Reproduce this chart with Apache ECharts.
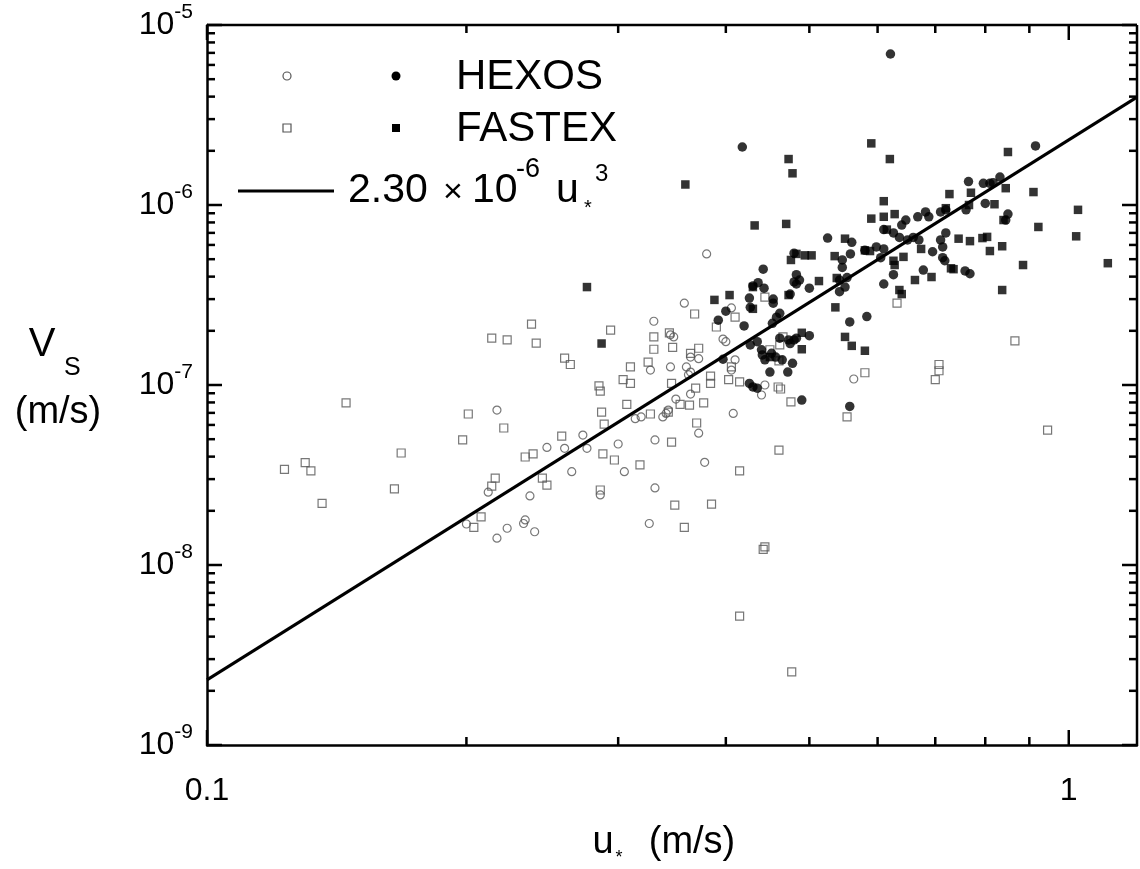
<!DOCTYPE html>
<html><head><meta charset="utf-8">
<script src="https://cdn.jsdelivr.net/npm/echarts@6/dist/echarts.min.js"></script>
<style>html,body{margin:0;padding:0;background:#fff}#c{width:1140px;height:869px}</style>
</head><body><div id="c"></div>
<script>
// ---------- data (u*, Vs) ----------
const hexosFilled = [
[0.621,6.9e-6],[0.418,2.1e-6],[0.915,2.13e-6],[0.765,1.35e-6],[0.796,1.32e-6],[0.81,1.32e-6],
[0.817,1.33e-6],[0.832,1.43e-6],[0.80,1.02e-6],[0.85,8.9e-7],[0.845,8.25e-7],[0.758,4.3e-7],
[0.768,4.15e-7],[0.76,9.4e-7],[0.682,9.15e-7],[0.688,8.6e-7],[0.668,8.6e-7],[0.647,8.25e-7],
[0.64,7.74e-7],[0.71,9.15e-7],[0.72,9.4e-7],[0.525,6.55e-7],[0.56,6.2e-7],[0.558,5.35e-7],
[0.598,5.85e-7],[0.58,5.6e-7],[0.61,5.7e-7],[0.61,7.3e-7],[0.626,7.0e-7],[0.636,6.6e-7],
[0.65,6.4e-7],[0.66,6.6e-7],[0.67,6.4e-7],[0.71,6.4e-7],[0.714,5.85e-7],[0.695,5.5e-7],
[0.72,7.0e-7],[0.714,5.1e-7],[0.718,4.9e-7],[0.678,4.35e-7],[0.61,3.64e-7],[0.626,4.1e-7],
[0.546,4.5e-7],[0.542,3.83e-7],[0.55,3.5e-7],[0.542,3.3e-7],[0.605,5.1e-7],[0.487,3.83e-7],
[0.483,3.64e-7],[0.50,3.45e-7],[0.546,4.95e-7],[0.557,2.24e-7],[0.583,2.4e-7],[0.49,8.25e-8],
[0.557,7.6e-8],[0.442,4.4e-7],[0.43,3.55e-7],[0.436,3.7e-7],[0.443,3.45e-7],[0.426,3.04e-7],
[0.454,3.0e-7],[0.48,3.74e-7],[0.483,4.1e-7],[0.48,5.4e-7],[0.427,2.7e-7],[0.40,2.57e-7],
[0.392,2.29e-7],[0.42,2.13e-7],[0.454,2.85e-7],[0.453,2.2e-7],[0.458,2.38e-7],[0.462,2.5e-7],
[0.427,1.67e-7],[0.435,1.74e-7],[0.44,1.57e-7],[0.441,1.47e-7],[0.444,1.38e-7],[0.452,1.5e-7],
[0.457,1.43e-7],[0.45,1.18e-7],[0.465,1.38e-7],[0.472,1.18e-7],[0.478,1.32e-7],[0.426,1.02e-7],
[0.43,9.75e-8],[0.435,9.6e-8],[0.397,1.39e-7],[0.48,1.78e-7],[0.475,1.7e-7],[0.462,1.82e-7],
[0.473,1.78e-7],[0.483,1.82e-7],[0.50,1.88e-7],[0.475,3.2e-7],[0.553,3.95e-7]
];
const fastexFilled = [
[0.359,1.3e-6],[0.473,1.8e-6],[0.478,1.5e-6],[0.59,2.2e-6],[0.62,1.8e-6],[0.432,7.7e-7],
[0.47,7.85e-7],[0.85,1.97e-6],[0.845,1.24e-6],[0.91,1.18e-6],[1.025,9.4e-7],[0.922,7.55e-7],
[1.02,6.7e-7],[0.727,1.15e-6],[0.77,1.17e-6],[0.82,1.01e-6],[0.61,1.05e-6],[0.59,8.4e-7],
[0.61,8.6e-7],[0.628,8.9e-7],[0.745,6.5e-7],[0.768,6.3e-7],[0.794,6.55e-7],[0.804,6.65e-7],
[0.81,5.55e-7],[0.837,5.9e-7],[0.674,5.7e-7],[0.72,9.6e-7],[0.55,6.5e-7],[0.58,5.6e-7],
[0.588,5.55e-7],[0.483,5.35e-7],[0.494,5.25e-7],[0.503,5.25e-7],[0.535,5.2e-7],[0.643,5.15e-7],
[0.84,8.25e-7],[0.766,1.0e-6],[0.885,4.64e-7],[1.11,4.75e-7],[0.837,3.37e-7],[0.476,4.95e-7],
[0.626,4.9e-7],[0.628,4.64e-7],[0.73,4.45e-7],[0.735,4.4e-7],[0.663,3.83e-7],[0.693,3.98e-7],
[0.513,3.78e-7],[0.538,3.93e-7],[0.636,3.37e-7],[0.64,3.2e-7],[0.388,2.97e-7],[0.404,3.16e-7],
[0.43,3.5e-7],[0.43,2.65e-7],[0.536,2.7e-7],[0.49,1.95e-7],[0.49,1.58e-7],[0.55,1.85e-7],
[0.56,1.65e-7],[0.58,1.55e-7],[0.45,1.43e-7],[0.276,3.5e-7],[0.287,1.7e-7],[0.473,3.16e-7],
[0.615,7.3e-7]
];
const hexosOpen = [
[0.217,7.26e-8],[0.248,4.5e-8],[0.26,4.45e-8],[0.273,5.27e-8],[0.276,4.45e-8],[0.30,4.7e-8],
[0.265,3.3e-8],[0.237,2.42e-8],[0.212,2.54e-8],[0.286,2.45e-8],[0.305,3.3e-8],[0.314,6.5e-8],
[0.319,6.65e-8],[0.327,1.21e-7],[0.33,2.26e-7],[0.331,2.68e-8],[0.331,4.95e-8],[0.234,1.78e-8],
[0.20,1.69e-8],[0.217,1.41e-8],[0.223,1.6e-8],[0.233,1.7e-8],[0.24,1.53e-8],[0.326,1.7e-8],
[0.38,5.35e-7],[0.358,2.85e-7],[0.348,1.85e-7],[0.345,1.9e-7],[0.406,2.68e-7],[0.397,1.8e-7],
[0.40,1.74e-7],[0.41,1.38e-7],[0.406,1.21e-7],[0.364,1.43e-7],[0.372,1.4e-7],[0.345,1.26e-7],
[0.36,1.26e-7],[0.364,1.18e-7],[0.362,1.14e-7],[0.444,1.0e-7],[0.44,8.8e-8],[0.364,8.9e-8],
[0.35,8.35e-8],[0.341,6.95e-8],[0.338,6.65e-8],[0.408,6.95e-8],[0.372,5.4e-8],[0.378,3.72e-8],
[0.563,1.08e-7],[0.343,7.26e-8]
];
const fastexOpen = [
[0.123,3.4e-8],[0.13,3.7e-8],[0.132,3.33e-8],[0.136,2.2e-8],[0.145,7.95e-8],[0.165,2.65e-8],
[0.168,4.19e-8],[0.198,4.95e-8],[0.201,6.9e-8],[0.214,1.82e-7],[0.223,1.78e-7],[0.221,5.77e-8],
[0.238,2.18e-7],[0.241,1.71e-7],[0.234,3.98e-8],[0.239,4.14e-8],[0.245,3.04e-8],[0.248,2.78e-8],
[0.216,3.04e-8],[0.214,2.74e-8],[0.258,5.2e-8],[0.26,1.41e-7],[0.264,1.3e-7],[0.285,9.9e-8],
[0.286,9.25e-8],[0.287,7.06e-8],[0.289,6.07e-8],[0.294,2.02e-7],[0.288,4.14e-8],[0.297,3.83e-8],
[0.286,2.61e-8],[0.304,1.07e-7],[0.31,1.02e-7],[0.31,1.26e-7],[0.307,7.8e-8],[0.318,3.6e-8],
[0.325,1.34e-7],[0.327,6.9e-8],[0.33,1.85e-7],[0.33,1.58e-7],[0.208,1.85e-8],[0.204,1.62e-8],
[0.349,2.15e-8],[0.385,2.18e-8],[0.358,1.62e-8],[0.444,1.26e-8],[0.442,1.22e-8],[0.415,5.2e-9],
[0.477,2.55e-9],[0.344,1.95e-7],[0.347,1.62e-7],[0.368,2.48e-7],[0.39,2.1e-7],[0.41,2.38e-7],
[0.444,3.08e-7],[0.372,1.6e-7],[0.364,1.5e-7],[0.406,1.26e-7],[0.384,1.12e-7],[0.384,1.02e-7],
[0.403,1.07e-7],[0.415,1.04e-7],[0.346,1.02e-7],[0.369,9.6e-8],[0.354,7.8e-8],[0.363,7.74e-8],
[0.377,7.95e-8],[0.343,7.06e-8],[0.37,6.15e-8],[0.346,4.82e-8],[0.46,9.75e-8],[0.463,9.5e-8],
[0.476,8.05e-8],[0.461,4.35e-8],[0.415,3.33e-8],[0.58,1.17e-7],[0.553,6.65e-8],[0.632,2.85e-7],
[0.707,1.3e-7],[0.707,1.2e-7],[0.70,1.07e-7],[0.866,1.76e-7],[0.945,5.62e-8],[0.466,1.85e-7],
[0.462,1.67e-7],[0.45,1.57e-7],[0.461,1.36e-7]
];
// fit line 2.30e-6 * u*^3, end points
const fitLine = [[0.1,2.3e-9],[1.2,3.974e-6]];

// ---------- axes ----------
const X_MIN = 0.1, X_MAX = 1.2, Y_MIN = 1e-9, Y_MAX = 1e-5;
const xTickValues = [0.1, 1];
const xTickLabels = ['0.1', '1'];
const xMinorTicks = [0.2,0.3,0.4,0.5,0.6,0.7,0.8,0.9];
const yTickValues = [1e-9,1e-8,1e-7,1e-6,1e-5];
const yTickExponents = ['-9','-8','-7','-6','-5'];
const yMinorMantissas = [2,3,4,5,6,7,8,9];

const FONT = 'Liberation Sans, Arial, Helvetica, sans-serif';
const OPEN_GRAY = '#555';

function findTick(v, list) {
  const lv = Math.log10(v);
  for (let i = 0; i < list.length; i++) {
    if (Math.abs(lv - Math.log10(list[i])) < 1e-6) return i;
  }
  return -1;
}

const chart = echarts.init(document.getElementById('c'), null, {renderer: 'canvas'});

const tickSeries = {
  type: 'custom',
  coordinateSystem: 'cartesian2d',
  silent: true,
  clip: false,
  z: 20,
  data: [[0.5, 1e-7]],
  renderItem: function (params, api) {
    const ch = [];
    const st = {stroke: '#000', lineWidth: 2.5};
    const tl = api.coord([X_MIN, Y_MAX]), tr = api.coord([X_MAX, Y_MAX]), br = api.coord([X_MAX, Y_MIN]);
    // top and right frame lines
    ch.push({type: 'line', shape: {x1: tl[0], y1: tl[1], x2: tr[0], y2: tr[1]}, style: st});
    ch.push({type: 'line', shape: {x1: tr[0], y1: tr[1], x2: br[0], y2: br[1]}, style: st});
    function xt(v, L) {
      const b = api.coord([v, Y_MIN]), t = api.coord([v, Y_MAX]);
      ch.push({type: 'line', shape: {x1: b[0], y1: b[1], x2: b[0], y2: b[1] - L}, style: st});
      ch.push({type: 'line', shape: {x1: t[0], y1: t[1], x2: t[0], y2: t[1] + L}, style: st});
    }
    function yt(v, L) {
      const l = api.coord([X_MIN, v]), r = api.coord([X_MAX, v]);
      ch.push({type: 'line', shape: {x1: l[0], y1: l[1], x2: l[0] + L, y2: l[1]}, style: st});
      ch.push({type: 'line', shape: {x1: r[0], y1: r[1], x2: r[0] - L, y2: r[1]}, style: st});
    }
    xTickValues.forEach(v => xt(v, 15));
    xMinorTicks.forEach(v => xt(v, 8));
    yTickValues.forEach(v => yt(v, 15));
    yTickValues.slice(0, -1).forEach(d => yMinorMantissas.forEach(m => yt(m * d, 8)));
    return {type: 'group', children: ch};
  }
};

const legendEls = [
  {type: 'circle', shape: {cx: 287, cy: 76, r: 4}, style: {fill: 'none', stroke: OPEN_GRAY, lineWidth: 1.2}},
  {type: 'circle', shape: {cx: 396, cy: 76, r: 4.5}, style: {fill: '#000'}},
  {type: 'text', x: 456, y: 77, style: {text: 'HEXOS', font: '42px ' + FONT, fill: '#000', align: 'left', verticalAlign: 'middle'}},
  {type: 'rect', shape: {x: 283, y: 124, width: 8, height: 8}, style: {fill: 'none', stroke: OPEN_GRAY, lineWidth: 1.2}},
  {type: 'rect', shape: {x: 392, y: 124, width: 8, height: 8}, style: {fill: '#000'}},
  {type: 'text', x: 456, y: 129, style: {text: 'FASTEX', font: '42px ' + FONT, fill: '#000', align: 'left', verticalAlign: 'middle'}},
  {type: 'line', shape: {x1: 238, y1: 191, x2: 334, y2: 191}, style: {stroke: '#000', lineWidth: 3}},
  {type: 'text', x: 348, y: 191, style: {text: '2.30', font: '41px ' + FONT, fill: '#000', align: 'left', verticalAlign: 'middle'}},
  {type: 'text', x: 443, y: 193, style: {text: '×', font: '34px ' + FONT, fill: '#000', align: 'left', verticalAlign: 'middle'}},
  {type: 'text', x: 472, y: 191, style: {text: '10', font: '41px ' + FONT, fill: '#000', align: 'left', verticalAlign: 'middle'}},
  {type: 'text', x: 516, y: 170, style: {text: '-6', font: '27px ' + FONT, fill: '#000', align: 'left', verticalAlign: 'middle'}},
  {type: 'text', x: 556, y: 191, style: {text: 'u', font: '41px ' + FONT, fill: '#000', align: 'left', verticalAlign: 'middle'}},
  {type: 'text', x: 584, y: 208, style: {text: '*', font: '20px ' + FONT, fill: '#000', align: 'left', verticalAlign: 'middle'}},
  {type: 'text', x: 595, y: 174, style: {text: '3', font: '24px ' + FONT, fill: '#000', align: 'left', verticalAlign: 'middle'}},
  // axis titles
  {type: 'text', x: 42, y: 345, style: {text: 'V', font: '40px ' + FONT, fill: '#000', align: 'center', verticalAlign: 'middle'}},
  {type: 'text', x: 64, y: 368, style: {text: 'S', font: '25px ' + FONT, fill: '#000', align: 'left', verticalAlign: 'middle'}},
  {type: 'text', x: 58, y: 413, style: {text: '(m/s)', font: '38px ' + FONT, fill: '#000', align: 'center', verticalAlign: 'middle'}},
  {type: 'text', x: 603, y: 843, style: {text: 'u', font: '38px ' + FONT, fill: '#000', align: 'center', verticalAlign: 'middle'}},
  {type: 'text', x: 619, y: 858, style: {text: '*', font: '18px ' + FONT, fill: '#000', align: 'center', verticalAlign: 'middle'}},
  {type: 'text', x: 692, y: 843, style: {text: '(m/s)', font: '38px ' + FONT, fill: '#000', align: 'center', verticalAlign: 'middle'}}
];

const openStyle = {color: 'rgba(0,0,0,0)', borderColor: OPEN_GRAY, borderWidth: 1.2};

chart.setOption({
  animation: false,
  backgroundColor: '#fff',
  grid: {left: 207, top: 25, width: 934.6, height: 720, show: false},
  xAxis: {
    type: 'log', logBase: 10, min: X_MIN, max: X_MAX, interval: 1,
    axisLine: {show: true, lineStyle: {color: '#000', width: 2.5}},
    axisTick: {show: false}, minorTick: {show: false}, splitLine: {show: false},
    axisLabel: {
      margin: 30, color: '#000', fontSize: 32, fontFamily: FONT, showMinLabel: true, showMaxLabel: true,
      formatter: function (v) { const i = findTick(v, xTickValues); return i >= 0 ? xTickLabels[i] : ''; }
    }
  },
  yAxis: {
    type: 'log', logBase: 10, min: Y_MIN, max: Y_MAX, interval: 1,
    axisLine: {show: true, lineStyle: {color: '#000', width: 2.5}},
    axisTick: {show: false}, minorTick: {show: false}, splitLine: {show: false},
    axisLabel: {
      margin: 14, color: '#000', showMinLabel: true, showMaxLabel: true,
      formatter: function (v) { const i = findTick(v, yTickValues); return i >= 0 ? '{b|10}{s|' + yTickExponents[i] + '}' : ''; },
      rich: {
        b: {fontSize: 32, lineHeight: 46, fontFamily: FONT, color: '#000'},
        s: {fontSize: 21, lineHeight: 21, fontFamily: FONT, color: '#000', verticalAlign: 'top'}
      }
    }
  },
  graphic: {elements: legendEls},
  series: [
    {name: 'HEXOS open', type: 'scatter', data: hexosOpen, symbol: 'circle', symbolSize: 8, itemStyle: openStyle, z: 2},
    {name: 'FASTEX open', type: 'scatter', data: fastexOpen, symbol: 'rect', symbolSize: 8, itemStyle: openStyle, z: 2},
    {name: 'fit', type: 'line', data: fitLine, showSymbol: false, symbol: 'none', lineStyle: {color: '#000', width: 3}, z: 3},
    {name: 'HEXOS', type: 'scatter', data: hexosFilled, symbol: 'circle', symbolSize: 9.5, itemStyle: {color: '#000'}, z: 4},
    {name: 'FASTEX', type: 'scatter', data: fastexFilled, symbol: 'rect', symbolSize: 8.5, itemStyle: {color: '#000'}, z: 4},
    tickSeries
  ]
});
</script>
</body></html>
